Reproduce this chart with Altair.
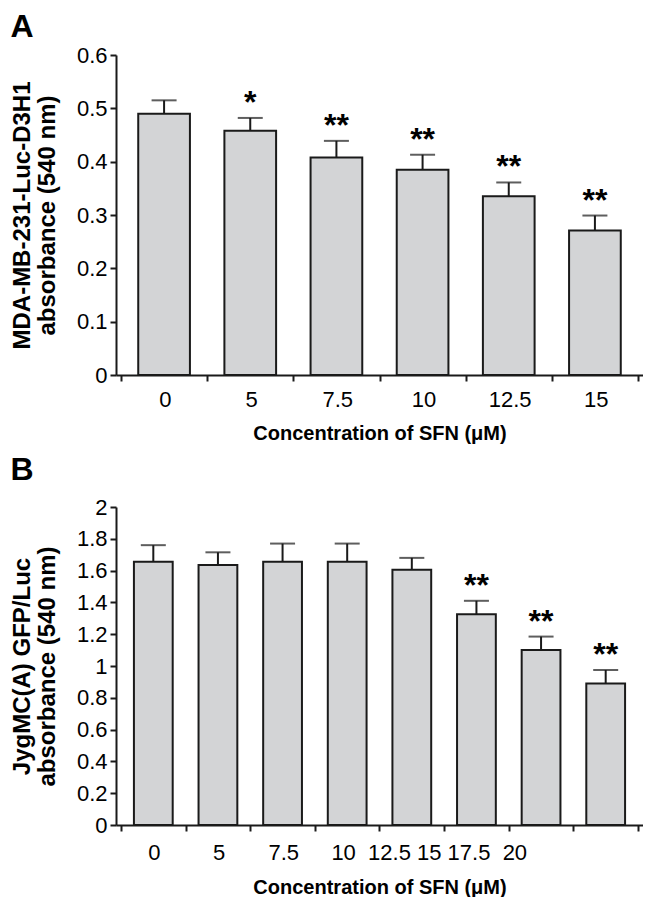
import json
import altair as alt
import pandas as pd

FONT = "Liberation Sans, Arial, Helvetica, sans-serif"
INK = "#1a1a1a"
BAR_FILL = "#d3d4d6"
NBSP = "\u00a0"

# ---------------- Panel A data ----------------
a_doses = ["0", "5", "7.5", "10", "12.5", "15"]
a_means = [0.490, 0.458, 0.408, 0.385, 0.335, 0.271]
a_sems = [0.025, 0.024, 0.031, 0.028, 0.026, 0.028]
a_marks = ["", "*", "**", "**", "**", "**"]
a_yticks = [0, 0.1, 0.2, 0.3, 0.4, 0.5, 0.6]
a_ytitle = ["MDA-MB-231-Luc-D3H1", "absorbance (540 nm)"]

# ---------------- Panel B data ----------------
b_doses = ["0", "5", "7.5", "10", "12.5", "15", "17.5", "20"]
b_means = [1.655, 1.635, 1.655, 1.655, 1.605, 1.325, 1.100, 0.890]
b_sems = [0.105, 0.080, 0.115, 0.115, 0.075, 0.085, 0.085, 0.085]
b_marks = ["", "", "", "", "", "**", "**", "**"]
b_yticks = [0, 0.2, 0.4, 0.6, 0.8, 1, 1.2, 1.4, 1.6, 1.8, 2]
b_ytitle = ["JygMC(A) GFP/Luc", "absorbance (540 nm)"]

x_title = "Concentration of SFN (\u03bcM)"

# tick labels as printed under each band (panel B's last five labels are crammed together)
a_tick_labels = a_doses + [""]
b_gaps = [2, 1, 1, 2]
crammed = b_doses[3]
for g, d in zip(b_gaps, b_doses[4:]):
    crammed += NBSP * g + d
b_tick_labels = b_doses[:3] + [crammed] + [""] * 5

PLOT_W = 527


def panel(letter, doses, means, sems, marks, tick_labels, yticks, ytitle, height,
          label_align, label_offset, letter_offset, label_pad, title_pad):
    n = len(doses)
    df = pd.DataFrame({"i": list(range(n)), "dose": doses, "mean": means,
                       "sem": sems, "mark": marks})
    base = alt.Chart(df).transform_calculate(
        x0="datum.i + 0.2", x1="datum.i + 0.8", xc="datum.i + 0.5",
        top="datum.mean + datum.sem", zero="0")
    xscale = alt.Scale(domain=[0, n], nice=False, zero=False)
    yscale = alt.Scale(domain=[yticks[0], yticks[-1]], nice=False, zero=True)
    label_js = json.dumps(tick_labels, ensure_ascii=False)
    xaxis = alt.Axis(
        values=list(range(n + 1)),
        labelExpr=f"{label_js}[datum.value] || ''",
        labelAlign=label_align, labelOffset=label_offset,
        labelOverlap=False, labelFlush=False, labelLimit=0,
        labelFont=FONT, labelFontSize=22, labelColor="#000", labelPadding=label_pad,
        tickSize=6, tickWidth=2, tickColor=INK, domainColor=INK, domainWidth=2,
        grid=False, title=x_title, titleFont=FONT, titleFontSize=20,
        titleFontWeight="bold", titleColor="#000", titlePadding=title_pad,
    )
    yaxis = alt.Axis(
        values=yticks, format="~g", labelFont=FONT, labelFontSize=22,
        labelColor="#000", labelPadding=3, tickSize=6, tickWidth=2,
        tickColor=INK, domainColor=INK, domainWidth=2, grid=False,
        title=ytitle, titleFont=FONT, titleFontSize=24, titleFontWeight="bold",
        titleColor="#000", titleLineHeight=25, titlePadding=17,
    )
    bars = base.mark_bar(fill=BAR_FILL, stroke=INK, strokeWidth=2, orient="vertical").encode(
        x=alt.X("x0:Q", scale=xscale, axis=xaxis),
        x2="x1:Q",
        y=alt.Y("mean:Q", scale=yscale, axis=yaxis),
        y2="zero:Q",
    )
    stem = base.mark_rule(color=INK, strokeWidth=2).encode(
        x=alt.X("xc:Q", scale=xscale, axis=xaxis),
        y=alt.Y("mean:Q", scale=yscale, axis=yaxis),
        y2="top:Q",
    )
    cap = base.mark_tick(orient="horizontal", size=25, thickness=2, color=INK).encode(
        x=alt.X("xc:Q", scale=xscale, axis=xaxis),
        y=alt.Y("top:Q", scale=yscale, axis=yaxis),
    )
    stars = base.mark_text(font=FONT, fontSize=32, fontWeight="bold",
                           baseline="alphabetic", dy=-5, color="#000").encode(
        x=alt.X("xc:Q", scale=xscale, axis=xaxis),
        y=alt.Y("top:Q", scale=yscale, axis=yaxis),
        text="mark:N",
    )
    return alt.layer(bars, stem, cap, stars).properties(
        width=PLOT_W, height=height,
        title=alt.TitleParams(letter, anchor="start", frame="bounds", font=FONT,
                              fontSize=32, fontWeight="bold", color="#000",
                              offset=letter_offset),
    )


a_step = PLOT_W / len(a_doses)
b_step = PLOT_W / len(b_doses)
na, nb = len(a_doses), len(b_doses)

chart_a = panel(
    "A", a_doses, a_means, a_sems, a_marks, a_tick_labels, a_yticks, a_ytitle, 320,
    "center",
    {"condition": {"test": f"datum.value >= {na}", "value": 0}, "value": a_step / 2},
    0.5, 8, 13,
)
chart_b = panel(
    "B", b_doses, b_means, b_sems, b_marks, b_tick_labels, b_yticks, b_ytitle, 318,
    {"condition": {"test": "datum.value == 3", "value": "left"}, "value": "center"},
    {"condition": [{"test": "datum.value == 3", "value": 16},
                   {"test": f"datum.value >= {nb}", "value": 0}],
     "value": b_step / 2},
    9, 11, 14,
)

chart = alt.vconcat(chart_a, chart_b, spacing=11).properties(
    padding={"left": 2, "top": 2, "right": 0, "bottom": 0}
).configure_view(stroke=None)

chart.save("out.html", embed_options={"renderer": "svg", "actions": False})
